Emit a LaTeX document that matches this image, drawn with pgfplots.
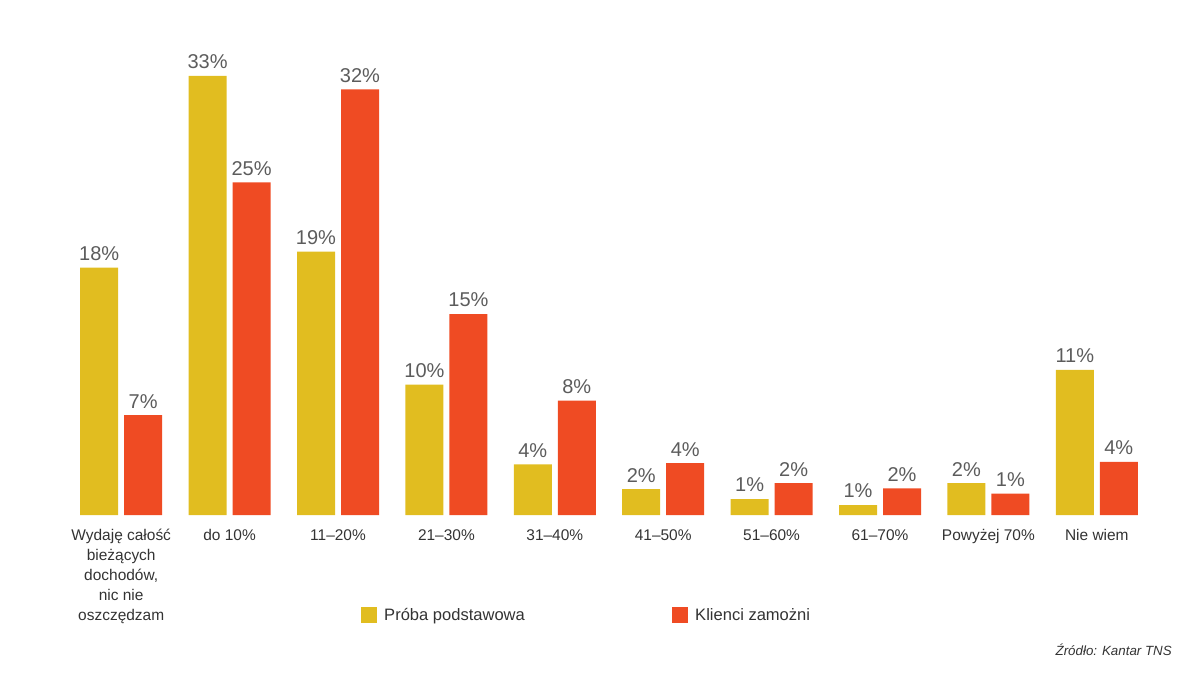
\documentclass[border=0pt]{standalone}
\usepackage{fontspec}
\setmainfont{Liberation Sans}
\usepackage{pgfplots}
\pgfplotsset{compat=1.18}
\definecolor{zolty}{HTML}{E1BD20}
\definecolor{czerw}{HTML}{EF4B23}
\definecolor{tekst}{HTML}{333333}

\begin{document}
\begin{tikzpicture}
\useasboundingbox (0,0) rectangle (891pt,506.25pt);
\begin{axis}[
    at={(50.25pt,120pt)}, anchor=south west,
    scale only axis,
    width=813pt, height=329.25pt,
    xmin=-0.5, xmax=9.5, ymin=0, ymax=33,
    clip=false,
    axis line style={draw=none},
    major tick length=0pt,
    ytick=\empty,
    xtick={0,...,9},
    xticklabels={{Wydaję całość\\bieżących\\dochodów,\\nic nie\\oszczędzam}, do 10\%, 11–20\%, 21–30\%, 31–40\%, 41–50\%, 51–60\%, 61–70\%, Powyżej 70\%, Nie wiem},
    x tick label style={font=\fontsize{11.6}{15}\selectfont, text=tekst, align=center, anchor=north, inner sep=0pt, yshift=-10.5pt},
    ybar, bar width=28.5pt,
    point meta=explicit symbolic,
    nodes near coords,
    nodes near coords style={font=\fontsize{15}{18}\selectfont, text=tekst!80, anchor=south, inner sep=0pt, yshift=5pt},
    legend columns=2,
    legend style={draw=none, at={(0.2712,-0.228)}, anchor=west, inner sep=0pt,
        font=\fontsize{12.4}{14}\selectfont, text=tekst,
        nodes={inner sep=0pt},
        /tikz/every odd column/.append style={column sep=0pt}},
]
\addplot[fill=zolty, draw=none, bar shift=-16.5pt,
    legend image code/.code={\fill[zolty] (0pt,-6pt) rectangle (12pt,6pt);}]
    coordinates {(0,18.6) [18\%] (1,33) [33\%] (2,19.8) [19\%] (3,9.8) [10\%] (4,3.8) [4\%]
                 (5,1.95) [2\%] (6,1.2) [1\%] (7,0.75) [1\%] (8,2.4) [2\%] (9,10.9) [11\%]};
\addlegendentry{\makebox[221.25pt][l]{\hspace{5.25pt}Próba podstawowa}}
\addplot[fill=czerw, draw=none, bar shift=16.5pt,
    legend image code/.code={\fill[czerw] (0pt,-6pt) rectangle (12pt,6pt);}]
    coordinates {(0,7.5) [7\%] (1,25) [25\%] (2,32) [32\%] (3,15.1) [15\%] (4,8.6) [8\%]
                 (5,3.9) [4\%] (6,2.4) [2\%] (7,2.0) [2\%] (8,1.6) [1\%] (9,4.0) [4\%]};
\addlegendentry{\hspace{5.25pt}Klienci zamożni}
\end{axis}
\node[anchor=base east, font=\itshape\fontsize{10}{12}\selectfont, text=tekst, inner sep=0pt]
    at (879pt,15pt) {Źródło: Kantar TNS};
\end{tikzpicture}
\end{document}
